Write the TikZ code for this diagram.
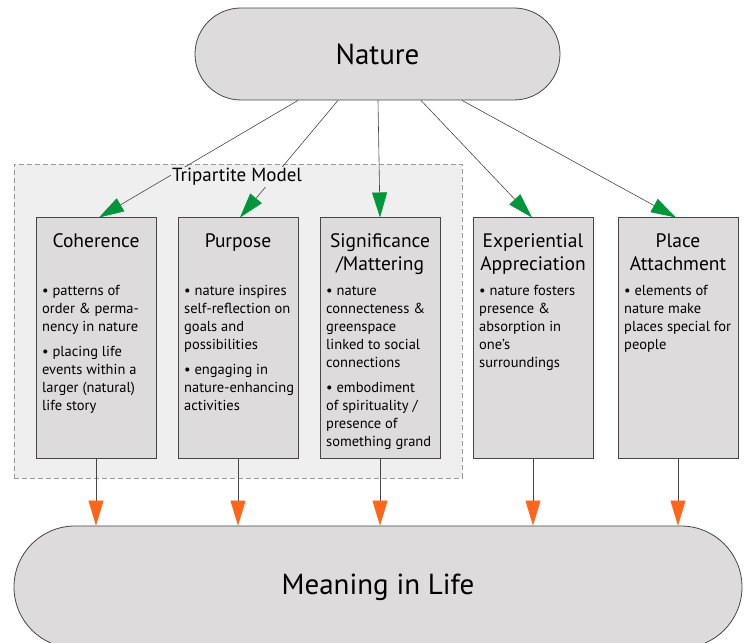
\documentclass[tikz,border=0pt]{standalone}
\usepackage{fontspec}
\setmainfont{PT Sans}
\usetikzlibrary{shapes.misc,arrows.meta,positioning}
\definecolor{boxgray}{RGB}{221,219,220}
\definecolor{framegray}{RGB}{238,239,238}
\definecolor{linegray}{RGB}{70,70,70}
\definecolor{arrowgreen}{RGB}{0,150,57}
\definecolor{arroworange}{RGB}{255,102,26}

\begin{document}
\begin{tikzpicture}[x=1pt,y=1pt]
    \tikzstyle{pill} = [rounded rectangle, draw=linegray, line width=0.8pt, fill=boxgray, inner sep=0pt]
    \tikzstyle{factor} = [rectangle, draw=linegray, line width=1pt, fill=boxgray, minimum width=120pt, minimum height=241pt, inner sep=0pt]
    \tikzstyle{title} = [anchor=north, font=\fontsize{19.5}{23}\selectfont, align=center, inner sep=0pt]
    \tikzstyle{bullets} = [anchor=north west, font=\fontsize{14.5}{18}\selectfont, align=left, inner sep=0pt]
    \tikzstyle{inflow} = [draw=linegray, line width=0.6pt, -{Triangle[length=25pt,width=15pt,color=arrowgreen]}]
    \tikzstyle{outflow} = [draw=linegray, line width=0.6pt, -{Triangle[length=25pt,width=15pt,color=arroworange]}]

    \useasboundingbox (0,0) rectangle (745,643);

    % Tripartite frame
    \node[draw=gray!80, dashed, dash pattern=on 5pt off 3pt, line width=0.8pt, fill=framegray,
          minimum width=448pt, minimum height=314pt, inner sep=0pt] (frame) at (238,322) {};

    % Source and outcome
    \node[pill, minimum width=365pt, minimum height=92pt, font=\fontsize{29}{32}\selectfont] (nature) at (377.5,589) {Nature};
    \node[pill, minimum width=728pt, minimum height=122pt, font=\fontsize{29}{34}\selectfont] (meaning) at (378,56) {Meaning in Life};

    % Factors
    \node[factor] (coh) at (96,304.5) {};
    \node[factor] (pur) at (238,304.5) {};
    \node[factor] (sig) at (380,304.5) {};
    \node[factor] (exp) at (533,304.5) {};
    \node[factor] (place) at (678,304.5) {};

    % Titles
    \node[title] (cohT) at (96,412) {\strut Coherence};
    \node[title] (purT) at (238,412) {\strut Purpose};
    \node[title] (sigT) at (380,412) {\strut Significance\\/Mattering};
    \node[title] (expT) at (533,412) {\strut Experiential\\Appreciation};
    \node[title] (placeT) at (678,412) {\strut Place\\Attachment};

    % Bullets
    \node[bullets] (cohB) at (42,360.6) {\strut• patterns of\\order \& perma-\\nency in nature\\[7pt]• placing life\\events within a\\larger (natural)\\life story};
    \node[bullets] (purB) at (184,360.6) {\strut• nature inspires\\self-reflection on\\goals and\\possibilities\\[7pt]• engaging in\\nature-enhancing\\activities};
    \node[bullets] (sigB) at (326,360.6) {\strut• nature\\connecteness \&\\greenspace\\linked to social\\connections\\[7pt]• embodiment\\of spirituality /\\presence of\\something grand};
    \node[bullets] (expB) at (479,360.6) {\strut• nature fosters\\presence \&\\absorption in\\one's\\surroundings};
    \node[bullets] (placeB) at (624,360.6) {\strut• elements of\\nature make\\places special for\\people};

    % Connections
    \draw[inflow] ([xshift=-79.5pt]nature.south) -- ([xshift=3pt]coh.north);
    \draw[inflow] ([xshift=-39.5pt]nature.south) -- ([xshift=2pt]pur.north);
    \draw[inflow] ([xshift=0.5pt]nature.south) -- (sig.north);
    \draw[inflow] ([xshift=43.5pt]nature.south) -- ([xshift=-1pt]exp.north);
    \draw[inflow] ([xshift=84.5pt]nature.south) -- ([xshift=-2pt]place.north);
    \foreach \f in {coh,pur,sig,exp,place}
        \draw[outflow] (\f.south) -- (\f.south |- meaning.north);

    % Label over the lines
    \node[fill=framegray, inner sep=1pt, font=\fontsize{19}{22}\selectfont] (tri) at (237,466) {Tripartite Model};
\end{tikzpicture}
\end{document}
